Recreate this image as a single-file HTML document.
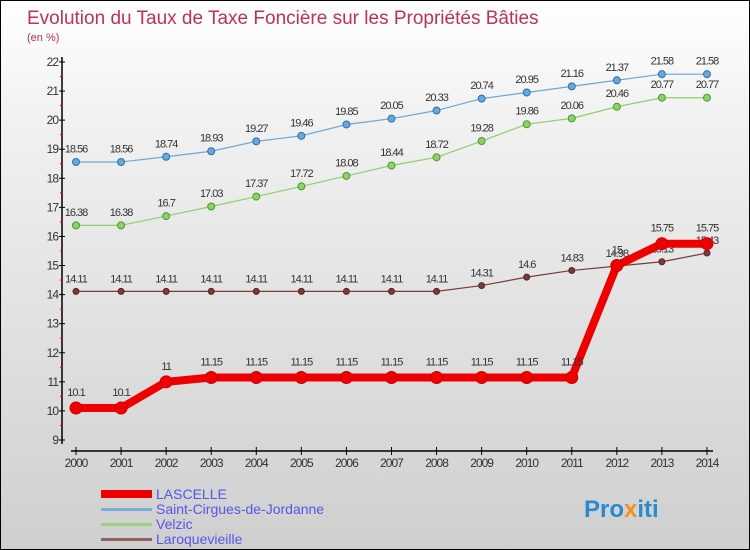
<!DOCTYPE html>
<html><head><meta charset="utf-8"><style>
body{margin:0;}
#wrap{width:750px;height:550px;position:relative;overflow:hidden;box-sizing:border-box;border:1px solid #000;background:linear-gradient(#fff,#f2f2f2 20%,#cfcfcf);font-family:"Liberation Sans",sans-serif;}
svg text{font-family:"Liberation Sans",sans-serif;}
</style></head><body>
<div id="wrap">
<svg id="c" width="750" height="550">
<text x="26" y="23" font-size="19" fill="#c0305a">Evolution du Taux de Taxe Foncière sur les Propriétés Bâties</text>
<text x="26" y="40" font-size="11" fill="#c0305a">(en %)</text>
<g id="axes"></g><g id="series"></g>
<g>
<rect x="100" y="489" width="51" height="8" fill="#e00"/>
<text x="155" y="498" font-size="14" fill="#5555ee">LASCELLE</text>
<rect x="100" y="507" width="51" height="3" fill="#7ab0d8"/>
<text x="155" y="513" font-size="14" fill="#5555ee">Saint-Cirgues-de-Jordanne</text>
<rect x="100" y="522" width="51" height="3" fill="#99d17e"/>
<text x="155" y="528" font-size="14" fill="#5555ee">Velzic</text>
<rect x="100" y="537" width="51" height="3" fill="#8d6262"/>
<text x="155" y="543" font-size="14" fill="#5555ee">Laroquevieille</text>
</g>
<text x="583" y="516" font-size="24" font-weight="bold" fill="#2a8ad0">Pro<tspan fill="#f09020">x</tspan>iti</text>
</svg>
</div>
<script>
const years=[2000,2001,2002,2003,2004,2005,2006,2007,2008,2009,2010,2011,2012,2013,2014];
const yTicks=[9,10,11,12,13,14,15,16,17,18,19,20,21,22];
const lascelle=[10.1,10.1,11,11.15,11.15,11.15,11.15,11.15,11.15,11.15,11.15,11.15,15,15.75,15.75];
const saintCirgues=[18.56,18.56,18.74,18.93,19.27,19.46,19.85,20.05,20.33,20.74,20.95,21.16,21.37,21.58,21.58];
const velzic=[16.38,16.38,16.7,17.03,17.37,17.72,18.08,18.44,18.72,19.28,19.86,20.06,20.46,20.77,20.77];
const laroquevieille=[14.11,14.11,14.11,14.11,14.11,14.11,14.11,14.11,14.11,14.31,14.6,14.83,14.98,15.13,15.43];
const NS="http://www.w3.org/2000/svg";
const X=i=>75+i*45.07, Y=v=>439-(v-9)*29.08;
function mk(t,a,p){const e=document.createElementNS(NS,t);for(const k in a)e.setAttribute(k,a[k]);p.appendChild(e);return e;}
const ax=document.getElementById('axes');
let e=mk('line',{x1:61,y1:56,x2:61,y2:443,stroke:'#000','stroke-width':1.5},ax);


e=mk('line',{x1:70,y1:450,x2:712,y2:450,stroke:'#000','stroke-width':1.5},ax);


yTicks.forEach(v=>{
 mk('line',{x1:58,x2:64,y1:Y(v),y2:Y(v),stroke:'#000'},ax);
 if(v<22)mk('line',{x1:59,x2:62,y1:Y(v+0.5),y2:Y(v+0.5),stroke:'#e00'},ax);
 const t=mk('text',{x:57,y:Y(v)+4,'text-anchor':'end','font-size':12,fill:'#333','letter-spacing':'-1'},ax);t.textContent=v;
 
 
});
years.forEach((yr,i)=>{
 mk('line',{x1:X(i),x2:X(i),y1:446,y2:454,stroke:'#000'},ax);
 const t=mk('text',{x:X(i),y:466,'text-anchor':'middle','font-size':12,fill:'#333','letter-spacing':'-1'},ax);t.textContent=yr;
 
 
});
const sg=document.getElementById('series');
function series(vals,color,w,r,name,dark){
 const g=mk('g',{},sg);
 
 
 mk('polyline',{points:vals.map((v,i)=>X(i)+','+Y(v)).join(' '),fill:'none',stroke:color,'stroke-width':w,'stroke-linejoin':'round'},g);
 vals.forEach((v,i)=>{
  const c=mk('circle',{cx:X(i),cy:Y(v),r:r,fill:color,stroke:dark,'stroke-width':1},g);
  
  
  const t=mk('text',{x:X(i),y:Y(v)-(r+6),'text-anchor':'middle','font-size':11,fill:'#333','letter-spacing':'-1'},g);t.textContent=v;
  
  
 });
}
series(laroquevieille,'#7a3b3b',1.2,3,'series-laroquevieille','#5a2222');
series(velzic,'#8fd068',1.2,3.5,'series-velzic','#4a9a30');
series(saintCirgues,'#6aa8d8',1.2,3.5,'series-saint-cirgues','#2a70b0');
series(lascelle,'#ee0000',8,6,'series-lascelle','#c00');
</script>
</body></html>
